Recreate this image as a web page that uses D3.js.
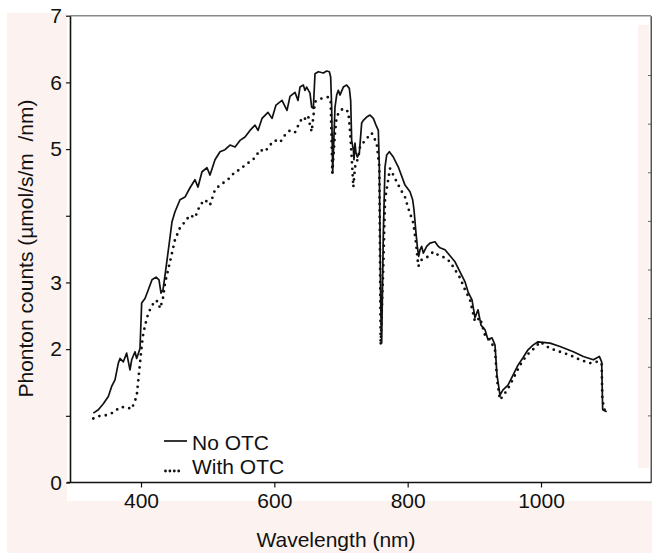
<!DOCTYPE html>
<html>
<head>
<meta charset="utf-8">
<script src="https://cdn.jsdelivr.net/npm/d3@7/dist/d3.min.js"></script>
<style>
  body { margin: 0; background: #fff; }
  svg { display: block; font-family: Arial, "Liberation Sans", sans-serif; }
</style>
</head>
<body>
<svg id="chart" width="652" height="553"></svg>
<script>
// axis ticks
const xTicks = [400, 600, 800, 1000]
const yTicks = [0, 1, 2, 3, 4, 5, 6, 7]
const yLabelled = [0, 2, 3, 5, 6, 7]
const rightTicks = [1, 2, 3, 4, 5, 6, 7, 8]

// legend entries
const seriesNames = ['No OTC', 'With OTC']

// No OTC spectrum (wavelength nm, photon counts)
const wlNoOTC = [328.5, 336, 343.5, 351, 356, 361, 366, 368.5, 373.5, 378.5, 383.5, 386, 391, 393.5, 398.5,
  401, 406, 411, 416.5, 422.5, 427, 430, 433, 437.5, 442, 446.5, 451, 458.5, 466, 473.5, 481, 485.5,
  491.5, 499, 503.5, 511, 518.5, 526, 533.5, 541, 548.5, 556, 563.5, 571, 575.5, 581.5, 590.5, 596.5,
  602.5, 611.5, 619, 623.5, 631, 635.5, 638.5, 643.5, 646, 648.5, 653.5, 656, 658.5, 661, 666, 673.5,
  678.5, 682.5, 684.5, 686, 687.5, 691, 693.5, 696, 698.5, 703.5, 708.5, 712.5, 714.5, 716, 718.5,
  719.5, 721, 722.5, 724.5, 727.5, 731, 733.5, 738.5, 743.5, 748.5, 752.5, 756, 757.5, 758.5, 759.5,
  761, 763.5, 766, 768.5, 772.5, 778.5, 786, 796, 803.5, 807.5, 809.5, 812.5, 814.5, 816.5, 818.5,
  821, 823.5, 828.5, 833.5, 841, 846, 848.5, 856, 863.5, 871, 878.5, 886, 890.5, 896.5, 901, 905.5,
  910, 916, 920.5, 926.5, 931, 934, 938.5, 943, 950.5, 958, 965.5, 973, 980.5, 988, 995.5, 1013.5,
  1028.5, 1048.5, 1063.5, 1078.5, 1087.5, 1091, 1092.5, 1098.5]
const noOTC = [1.04, 1.09, 1.18, 1.29, 1.44, 1.54, 1.79, 1.86, 1.81, 1.94, 1.69, 1.84, 1.96, 1.86, 2.01,
  2.69, 2.76, 2.89, 3.04, 3.08, 3.04, 2.84, 2.89, 3.22, 3.56, 3.91, 4.06, 4.24, 4.28, 4.42, 4.54, 4.43,
  4.66, 4.72, 4.61, 4.84, 4.96, 4.99, 5.06, 5.03, 5.13, 5.18, 5.28, 5.36, 5.28, 5.46, 5.55, 5.46,
  5.66, 5.73, 5.58, 5.79, 5.85, 5.73, 5.93, 5.96, 5.88, 5.93, 5.84, 5.63, 5.61, 6.13, 6.16, 6.14,
  6.17, 6.16, 6.08, 5.63, 4.64, 5.63, 5.81, 5.88, 5.81, 5.93, 5.96, 5.91, 5.73, 5.13, 4.99,
  4.84, 5.09, 4.94, 4.88, 4.94, 5.39, 5.43, 5.48, 5.51, 5.46, 5.36, 5.28, 4.73, 3.74, 2.74,
  2.09, 3.74, 4.73, 4.91, 4.96, 4.88, 4.73, 4.46, 4.36, 4.24, 4.09, 3.74, 3.54, 3.39, 3.49,
  3.54, 3.44, 3.54, 3.59, 3.61, 3.54, 3.52, 3.49, 3.40, 3.31, 3.16, 3.01, 2.86, 2.74, 2.47, 2.59,
  2.36, 2.29, 2.14, 2.17, 2.06, 1.61, 1.31, 1.39, 1.46, 1.61, 1.76, 1.87, 1.99, 2.06, 2.11, 2.09,
  2.04, 1.96, 1.89, 1.84, 1.89, 1.81, 1.09, 1.06]

// With OTC spectrum
const wlWithOTC = [328.5, 338.5, 348.5, 358.5, 368.5, 378.5, 386, 389.5, 393.5, 396, 398.5, 401, 403.5,
  407.5, 411, 416, 421, 426, 428.5, 431, 433.5, 436, 443.5, 451, 458.5, 466, 473.5, 481, 488.5, 496,
  503.5, 511, 518.5, 526, 533.5, 541, 548.5, 556, 563.5, 571, 578.5, 586, 593.5, 601, 608.5, 616,
  623.5, 631, 638.5, 643.5, 648.5, 651, 653.5, 656, 658.5, 661, 671, 681, 684.5, 687, 691, 693.5,
  697.5, 703.5, 711, 713.5, 716, 718.5, 721, 726, 728.5, 736, 746, 753.5, 757.5, 759.5, 763.5, 766,
  773.5, 781, 788.5, 796, 801, 808.5, 812.5, 816, 821, 826, 831, 838.5, 846, 856, 863.5, 871, 878.5,
  886, 893.5, 901, 908.5, 916, 923.5, 931, 934, 938.5, 946, 953.5, 961, 968.5, 976, 983.5, 991,
  998.5, 1013.5, 1028.5, 1043.5, 1058.5, 1073.5, 1083.5, 1091, 1092, 1096]
const withOTC = [0.96, 1.00, 1.01, 1.05, 1.13, 1.13, 1.10, 1.19, 1.29, 1.54, 1.79, 2.04, 2.24,
  2.41, 2.54, 2.64, 2.73, 2.71, 2.61, 2.69, 2.79, 2.99, 3.31, 3.64, 3.82, 3.91, 4.01, 3.97, 4.16, 4.24,
  4.16, 4.39, 4.46, 4.51, 4.57, 4.66, 4.69, 4.76, 4.81, 4.87, 4.99, 4.96, 5.06, 5.13, 5.10, 5.21,
  5.28, 5.25, 5.41, 5.48, 5.43, 5.48, 5.36, 5.26, 5.48, 5.71, 5.76, 5.78, 5.73, 4.64, 5.24, 5.48,
  5.56, 5.61, 5.56, 5.28, 4.88, 4.43, 4.73, 4.88, 5.03, 5.13, 5.24, 5.09, 4.73, 2.06, 3.24, 4.24,
  4.71, 4.56, 4.41, 4.28, 4.11, 3.89, 3.59, 3.24, 3.34, 3.36, 3.39, 3.46, 3.41, 3.37, 3.31, 3.19, 3.07,
  2.89, 2.74, 2.41, 2.47, 2.21, 2.14, 1.99, 1.54, 1.24, 1.34, 1.46, 1.61, 1.76, 1.87, 1.96, 2.02,
  2.11, 2.01, 1.96, 1.91, 1.84, 1.79, 1.81, 1.79, 1.24, 1.06]

const svg = d3.select('#chart')
const plotLeft = 70
const plotRight = 651
const plotTop = 15.7
const plotBottom = 482.5
const fontFamily = 'Arial, "Liberation Sans", sans-serif'

// backgrounds
svg.append('rect').attr('x', 7).attr('y', 13).attr('width', 645).attr('height', 540).attr('fill', '#fcf3f0')
svg.append('rect').attr('x', 67).attr('y', 0).attr('width', 585).attr('height', 501).attr('fill', '#ffffff')
svg.append('rect').attr('x', 638).attr('y', 25).attr('width', 11).attr('height', 443).attr('fill', '#fcf3f0')

const x = d3.scaleLinear().domain([293.5, 1165]).range([plotLeft, plotRight])
const y = d3.scaleLinear().domain([0, 7]).range([plotBottom, plotTop])
const y2 = d3.scaleLinear().domain([-0.38, 9.22]).range([plotBottom, plotTop])

// frame top and right
svg.append('line').attr('x1', plotLeft).attr('x2', plotRight).attr('y1', plotTop).attr('y2', plotTop)
  .attr('stroke', '#8a8a8a').attr('stroke-width', 1.5)
svg.append('g')
  .attr('transform', `translate(${plotRight},0)`)
  .call(d3.axisLeft(y2).tickValues(rightTicks).tickSize(3).tickSizeOuter(0).tickFormat(''))
  .call(g => g.select('.domain').attr('stroke', '#555').attr('stroke-width', 2))
  .call(g => g.selectAll('.tick line').attr('stroke', '#666'))

// left axis
svg.append('g')
  .attr('transform', `translate(${plotLeft},0)`)
  .call(d3.axisLeft(y).tickValues(yTicks).tickSize(4).tickSizeOuter(0).tickPadding(4)
    .tickFormat(d => yLabelled.includes(d) ? d : ''))
  .call(g => g.select('.domain').attr('stroke', '#111').attr('stroke-width', 1.6))
  .call(g => g.selectAll('.tick line').attr('stroke', '#111').attr('stroke-width', 1.2))
  .call(g => g.selectAll('.tick text').attr('font-size', 21).attr('fill', '#111')
    .attr('font-family', fontFamily))

// bottom axis
svg.append('g')
  .attr('transform', `translate(0,${plotBottom})`)
  .call(d3.axisBottom(x).tickValues(xTicks).tickSize(5).tickSizeOuter(0).tickFormat(d3.format('d')))
  .call(g => g.select('.domain').attr('d', `M${plotLeft - 3},0H${plotRight}`).attr('stroke', '#111').attr('stroke-width', 1.6))
  .call(g => g.selectAll('.tick line').attr('stroke', '#111').attr('stroke-width', 1.2))
  .call(g => g.selectAll('.tick text').attr('font-size', 21).attr('fill', '#111')
    .attr('font-family', fontFamily)
    .attr('y', 25.5).attr('dy', 0))

// axis titles
svg.append('text')
  .attr('x', 336).attr('y', 547)
  .attr('text-anchor', 'middle').attr('font-size', 21).attr('fill', '#111')
  .text('Wavelength (nm)')
svg.append('text')
  .attr('transform', 'translate(33,248.5) rotate(-90)')
  .attr('text-anchor', 'middle').attr('font-size', 21).attr('fill', '#111')
  .style('white-space', 'pre')
  .text('Phonton counts (\u00b5mol/s/m  /nm)')

// curves
const line = d3.line().x(d => x(d[0])).y(d => y(d[1]))
const noData = d3.zip(wlNoOTC, noOTC)
const withData = d3.zip(wlWithOTC, withOTC)

svg.append('path')
  .datum(withData)
  .attr('d', line)
  .attr('fill', 'none')
  .attr('stroke', '#111')
  .attr('stroke-width', 2.8)
  .attr('stroke-linecap', 'round')
  .attr('stroke-dasharray', '0 6.5')

svg.append('path')
  .datum(noData)
  .attr('d', line)
  .attr('fill', 'none')
  .attr('stroke', '#111')
  .attr('stroke-width', 1.7)
  .attr('stroke-linejoin', 'round')

// legend
const legend = svg.append('g').attr('transform', 'translate(164,0)')
const rows = legend.selectAll('.row')
  .data(seriesNames)
  .enter()
  .append('g')
  .attr('class', 'row')
  .attr('transform', (d, i) => `translate(0,${442 + i * 25})`)
rows.append('line')
  .attr('x1', (d, i) => i === 0 ? 0 : 1.5)
  .attr('x2', (d, i) => i === 0 ? 23 : 16)
  .attr('y1', (d, i) => i === 0 ? -1 : 4)
  .attr('y2', (d, i) => i === 0 ? -1 : 4)
  .attr('stroke', '#111')
  .attr('stroke-width', (d, i) => i === 0 ? 1.7 : 2.8)
  .attr('stroke-linecap', (d, i) => i === 0 ? 'butt' : 'round')
  .attr('stroke-dasharray', (d, i) => i === 0 ? null : '0 4.4')
rows.append('text')
  .attr('x', 28)
  .attr('y', (d, i) => i === 0 ? 7.5 : 7.3)
  .attr('font-size', 21)
  .attr('fill', '#111')
  .text(d => d)
</script>
</body>
</html>
